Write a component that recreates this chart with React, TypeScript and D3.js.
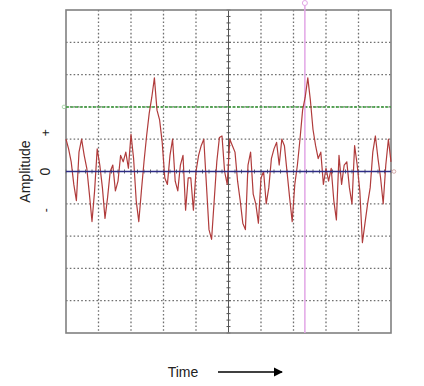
import React from "react";
import * as d3 from "d3";

// Signal amplitude samples (in grid divisions), evenly spaced over 10 time divisions
const amplitude: number[] = [
  1.0, 0.7, 0.3, -0.4, -0.9, 0.6, 1.0, 0.5, 0.1, -0.7,
  -1.55, -0.6, 0.7, 0.2, -0.5, -1.45, -0.8, 0.0, 0.2, -0.6,
  -0.3, 0.5, 0.3, 0.6, 0.1, 1.15, 0.4, -0.9, -1.55, -0.6,
  0.3, 1.1, 1.8, 2.3, 2.9, 1.9, 1.6, 0.9, -0.2, -0.4,
  0.5, 1.0, -0.3, -0.6, 0.2, 0.5, -1.2, -0.2, -0.2, -1.2,
  0.0, 0.5, 0.8, 1.0, -0.4, -1.8, -2.1, -0.9, 0.3, 1.05,
  1.1, 0.0, -0.4, 1.0, 0.8, 0.6, -0.3, -0.9, -1.6, -1.8,
  0.2, 0.6, -0.7, -1.0, -1.6, -0.2, 0.0, -1.0, -0.5, 0.4,
  0.7, 0.9, 0.2, 1.0, 0.8, 0.0, -0.8, -1.55, -0.4, 0.2,
  1.0, 1.9, 2.3, 2.9, 2.2, 1.3, 0.8, 0.4, 0.6, -0.4,
  0.1, -0.3, 0.1, -0.9, -1.5, 0.5, -0.4, 0.2, 0.3, -0.5,
  -1.0, 0.8, 0.2, -0.6, -2.2, -1.6, -1.0, -0.5, 0.6, 1.1,
  0.4, -0.2, -1.0, 0.2, 1.0, 0.3,
];

const gridDivisions: number[] = [0, 1, 2, 3, 4, 5, 6, 7, 8, 9, 10];
const ampDivisions: number[] = [-5, -4, -3, -2, -1, 0, 1, 2, 3, 4, 5];
const triggerLevel = 2; // green line
const baseline = 0; // blue line
const cursorTime = 7.35; // pink cursor
const ampSignLabels: { text: string; value: number }[] = [
  { text: "+", value: 1.2 },
  { text: "0", value: 0 },
  { text: "-", value: -1.2 },
];

export default function App() {
  const W = 424;
  const H = 386;
  const x = d3.scaleLinear().domain([0, 10]).range([66, 391]);
  const y = d3.scaleLinear().domain([-5, 5]).range([333, 10]);
  const n = amplitude.length;
  const t = (i: number) => (i * 10) / (n - 1);
  const line = d3
    .line<number>()
    .x((_, i) => x(t(i)))
    .y((d) => y(d))
    .curve(d3.curveLinear);

  const minorTicks = d3.range(0, 10.01, 0.2);
  const minorAmp = d3.range(-5, 5.01, 0.2);

  return (
    <svg
      width={W}
      height={H}
      style={{ position: "absolute", left: 0, top: 0, background: "#fff" }}
      fontFamily="'Liberation Sans', Arial, sans-serif"
    >
      <defs>
        <marker id="arr" viewBox="0 0 10 10" refX="9" refY="5" markerWidth="7" markerHeight="7" orient="auto">
          <path d="M0,0 L10,5 L0,10 z" fill="#000" />
        </marker>
      </defs>
      {/* grid */}
      {gridDivisions.slice(1, -1).map((g) =>
        g === 5 ? null : (
          <line key={"v" + g} x1={x(g)} x2={x(g)} y1={y(5)} y2={y(-5)} stroke="#707070" strokeWidth={1.3} strokeDasharray="1.6,2.2" />
        )
      )}
      {ampDivisions.slice(1, -1).map((g) =>
        g === 0 ? null : (
          <line key={"h" + g} x1={x(0)} x2={x(10)} y1={y(g)} y2={y(g)} stroke="#707070" strokeWidth={1.3} strokeDasharray="1.6,2.2" />
        )
      )}
      {/* center vertical axis with ticks */}
      <line x1={x(5)} x2={x(5)} y1={y(5)} y2={y(-5)} stroke="#555" strokeWidth={1} />
      {minorAmp.map((a, i) => (
        <line key={"mt" + i} x1={x(5) - 2} x2={x(5) + 2} y1={y(a)} y2={y(a)} stroke="#555" strokeWidth={1} />
      ))}
      {minorTicks.map((a, i) => (
        <line key={"mh" + i} x1={x(a)} x2={x(a)} y1={y(0) - 2} y2={y(0) + 2} stroke="#666" strokeWidth={1} />
      ))}
      {/* border */}
      <rect x={x(0)} y={y(5)} width={x(10) - x(0)} height={y(-5) - y(5)} fill="none" stroke="#808080" strokeWidth={1.6} />
      {/* trigger level line */}
      <line x1={x(0)} x2={x(10)} y1={y(triggerLevel)} y2={y(triggerLevel)} stroke="#3b9a3b" strokeWidth={1.5} strokeDasharray="3,1.5" />
      <circle cx={x(0) - 2} cy={y(triggerLevel)} r={1.8} fill="none" stroke="#9c9" strokeWidth={0.8} />
      {/* cursor */}
      <line x1={x(cursorTime)} x2={x(cursorTime)} y1={5} y2={y(-5)} stroke="#e2a6e6" strokeWidth={1.5} />
      <circle cx={x(cursorTime)} cy={3} r={2.5} fill="#fff" stroke="#e2a6e6" strokeWidth={1} />
      {/* signal */}
      <path d={line(amplitude) || ""} fill="none" stroke="#b03c3c" strokeWidth={1.2} strokeLinejoin="round" />
      {/* baseline */}
      <line x1={x(0)} x2={x(10)} y1={y(baseline)} y2={y(baseline)} stroke="#2e2e86" strokeWidth={1.5} />
      <circle cx={x(10) + 3} cy={y(baseline)} r={1.8} fill="none" stroke="#c99" strokeWidth={0.8} />
      {/* y labels */}
      <text transform={`translate(30,${y(0)}) rotate(-90)`} textAnchor="middle" fontSize={14} fill="#222">
        Amplitude
      </text>
      {ampSignLabels.map((l) => (
        <text
          key={l.text}
          transform={`translate(50,${y(l.value)}) rotate(-90)`}
          textAnchor="middle"
          fontSize={l.text === "0" ? 14 : 12}
          fill="#222"
        >
          {l.text}
        </text>
      ))}
      {/* x label */}
      <text x={183} y={377} textAnchor="middle" fontSize={14} fill="#222">
        Time
      </text>
      <line x1={218} x2={282} y1={372} y2={372} stroke="#000" strokeWidth={1.3} markerEnd="url(#arr)" />
    </svg>
  );
}
